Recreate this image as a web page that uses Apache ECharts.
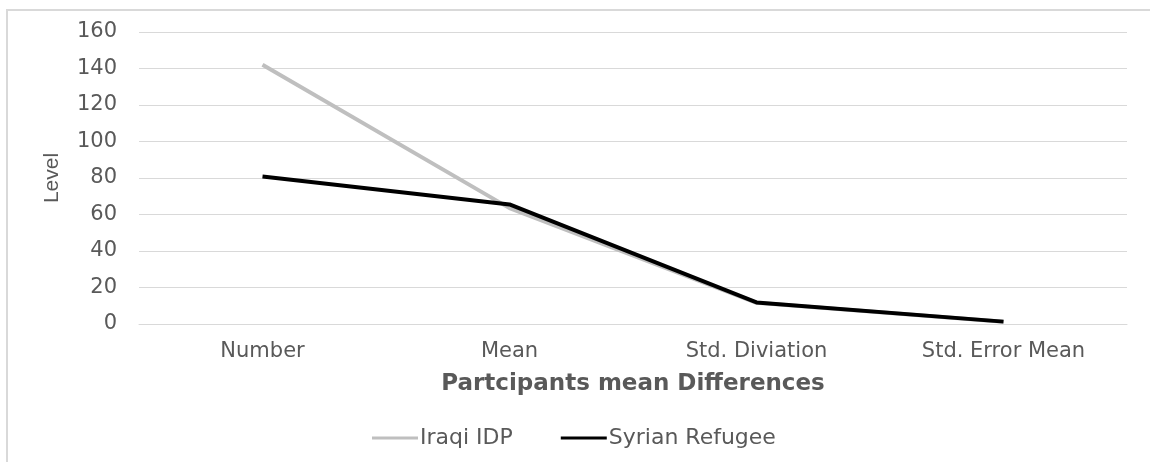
<!DOCTYPE html>
<html><head><meta charset="utf-8">
<script src="https://cdn.jsdelivr.net/npm/echarts@6/dist/echarts.min.js"></script>
<style>html,body{margin:0;padding:0;background:#fff}#c{width:1150px;height:462px}</style>
</head><body><div id="c"></div>
<script>
const categories = ["Number", "Mean", "Std. Diviation", "Std. Error Mean"];
const iraqiIDP = [142, 63.5, 11.6, 1.2];
const syrianRefugee = [80.8, 65.5, 11.8, 1.3];
const yTicks = { min: 0, max: 160, interval: 20 };

const chart = echarts.init(document.getElementById('c'));
const font = 'DejaVu Sans, sans-serif';
chart.setOption({
  animation: false,
  backgroundColor: '#fff',
  graphic: [{
    type: 'rect', shape: { x: 7, y: 10, width: 1200, height: 500 },
    style: { fill: 'none', stroke: '#d9d9d9', lineWidth: 2 }, silent: true
  }],
  grid: { left: 139, right: 23, top: 32, bottom: 138 },
  xAxis: {
    type: 'category', data: categories, boundaryGap: true,
    axisLine: { show: true, lineStyle: { color: '#d9d9d9', width: 1 } },
    axisTick: { show: false },
    axisLabel: { color: '#595959', fontFamily: font, fontSize: 21, margin: 17 },
    name: 'Partcipants mean Differences', nameLocation: 'middle', nameGap: 49,
    nameTextStyle: { color: '#595959', fontFamily: font, fontSize: 23, fontWeight: 'bold' }
  },
  yAxis: {
    type: 'value', min: yTicks.min, max: yTicks.max, interval: yTicks.interval,
    axisLine: { show: false }, axisTick: { show: false },
    splitLine: { lineStyle: { color: '#d9d9d9', width: 1 } },
    axisLabel: { color: '#595959', fontFamily: font, fontSize: 21, margin: 22 },
    name: 'Level', nameLocation: 'middle', nameGap: 76, nameRotate: 90,
    nameTextStyle: { color: '#595959', fontFamily: 'Liberation Sans, Arial, sans-serif', fontSize: 21 }
  },
  legend: {
    bottom: 8, left: 367, itemWidth: 46, itemHeight: 3, itemGap: 48,
    icon: 'rect',
    textStyle: { color: '#595959', fontFamily: font, fontSize: 22, padding: [0, 0, 0, -3] },
    data: ['Iraqi IDP', 'Syrian Refugee']
  },
  series: [
    { name: 'Iraqi IDP', type: 'line', data: iraqiIDP, showSymbol: false, symbol: 'none',
      lineStyle: { color: '#bfbfbf', width: 4 }, itemStyle: { color: '#bfbfbf' } },
    { name: 'Syrian Refugee', type: 'line', data: syrianRefugee, showSymbol: false, symbol: 'none',
      lineStyle: { color: '#000000', width: 4 }, itemStyle: { color: '#000000' } }
  ]
});
</script></body></html>
